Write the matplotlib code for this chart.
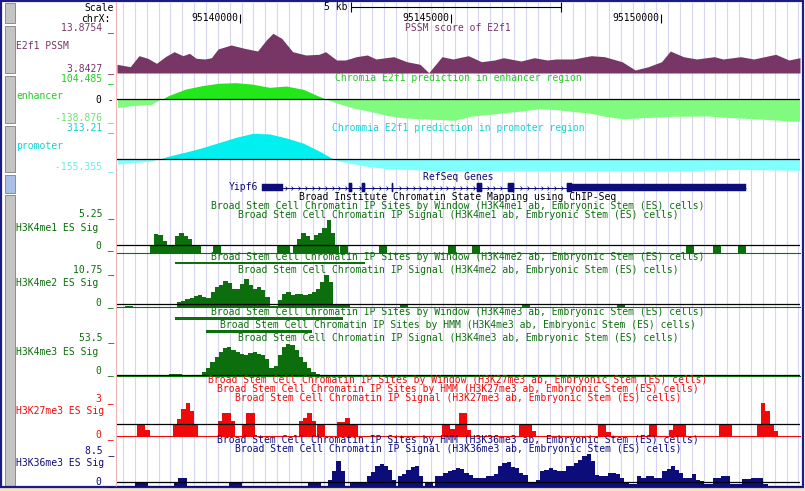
import numpy as np
import matplotlib
matplotlib.use("Agg")
import matplotlib.pyplot as plt
from matplotlib.patches import Rectangle
from matplotlib.path import Path

# ---------------- data ----------------
VIEW_START, VIEW_END = 95137078, 95153300
CHROM = "chrX"
RULER_TICKS = [95140000, 95145000, 95150000]
SCALE_BAR_START, SCALE_BAR_LEN = 95142635, 5000

PSSM_RANGE = (3.8427, 13.8754)
PSSM_POS = [95137078, 95137391, 95137600, 95137808, 95138017, 95138225, 95138434, 95138643,
            95138799, 95138955, 95139164, 95139320, 95139477, 95139790, 95140103, 95140416,
            95140624, 95140781, 95140989, 95141250, 95141563, 95141876, 95142032, 95142293,
            95142502, 95142762, 95143023, 95143232, 95143649, 95143962, 95144275, 95144483,
            95144796, 95145057, 95145422, 95145735, 95146048, 95146256, 95146674, 95146987,
            95147299, 95147508, 95147925, 95148342, 95148655, 95149073, 95149385, 95149698,
            95150011, 95150220, 95150533, 95150846, 95151263, 95151471, 95151889, 95152202,
            95152723, 95153036, 95153300]
PSSM_VAL = [5.74, 5.22, 7.62, 7.05, 5.96, 7.40, 8.49, 7.62, 8.14, 7.05, 6.90, 7.18, 9.08, 9.95,
            9.23, 8.64, 11.04, 12.50, 11.41, 8.49, 7.77, 7.92, 8.49, 6.68, 6.68, 7.40, 7.77, 6.90,
            7.40, 6.31, 5.74, 3.91, 7.40, 6.90, 7.62, 6.31, 6.68, 7.18, 6.46, 7.18, 6.68, 6.90,
            6.90, 7.62, 7.40, 6.31, 4.50, 5.22, 6.31, 8.64, 7.40, 6.90, 7.40, 6.90, 7.40, 6.90,
            7.92, 6.68, 7.18]

ENH_RANGE = (-138.876, 104.485)
PROM_RANGE = (-155.355, 313.21)
PRED_POS = list(range(95137100, 95153200, 400)) + [95153300]
ENH_VAL = [-47, -36, -31, 20, 55, 74, 87, 90, 82, 65, 72, 54, 14, -22, -50, -68, -90, -103,
           -108, -112, -116, -94, -85, -75, -66, -54, -58, -68, -77, -95, -108, -103, -99, -94,
           -94, -92, -100, -104, -109, -114, -121, -121]
PROM_VAL = [-59, -40, -27, 30, 72, 118, 172, 226, 268, 262, 220, 166, 79, -20, -55, -85, -105,
            -112, -118, -125, -128, -130, -128, -125, -122, -125, -128, -130, -128, -125, -125,
            -127, -130, -128, -125, -120, -115, -112, -115, -118, -120, -122]

GENE_NAME = "Yipf6"
GENE_SPAN = (95140522, 95152017)
GENE_CDS = (95142588, 95147884)
GENE_EXONS = [(95140522, 95141020), (95142588, 95142659), (95142897, 95142968),
              (95143609, 95143633), (95145628, 95145747), (95146364, 95146507),
              (95147766, 95152017)]

H3K4ME2_WINDOW = [(95138455, 95142968)]
H3K4ME3_WINDOW = [(95138455, 95142446)]
H3K4ME3_HMM = [(95139192, 95141709)]

SIG_BIN = 100  # bp per signal bin
H3K4ME1_MAX = 5.25
H3K4ME1 = [
    (95137862, [1, 2.5, 2.4, 1.6, 1, 1, 2.3, 2.7, 2.3, 1.9, 1, 1]),
    (95139358, [1, 1]),
    (95140878, [1, 1, 1]),
    (95141258, [1, 1.9, 2.6, 2.2, 1.7, 2.4, 2.6, 3.4, 4.4, 2.7, 1]),
    (95142374, [1, 1]),
    (95143300, [1, 1]),
    (95144939, [1, 1]),
    (95145509, [1, 1]),
    (95150592, [1, 1]),
    (95151233, [1, 1]),
    (95151827, [1, 1]),
]
H3K4ME2_MAX = 10.75
H3K4ME2 = [
    (95137268, [0.3, 0.3]),
    (95138503, [1.6, 1.8, 2.4, 2.8, 3.2, 3.5, 3.0, 2.7, 4.5, 6.0, 6.6, 8.0, 7.2, 5.5, 5.5, 7.0,
                8.4, 6.6, 5.6, 6.0, 5.0, 3.0, 0.3, 0.3, 2.0, 3.8, 4.5, 3.5, 3.8, 4.0, 3.6, 3.8,
                4.5, 5.6, 7.5, 9.8, 7.5, 1.0, 1.0, 1.0, 1.0]),
    (95143799, [0.5, 0.5]),
    (95146697, [0.6, 0.6]),
    (95148953, [0.6, 0.6]),
]
H3K4ME3_MAX = 53.5
H3K4ME3 = [
    (95137102, [1.5, 1.5]),
    (95138028, [1.5, 1.5]),
    (95138313, [2.5, 2.5, 2.5]),
    (95138669, [2, 2]),
    (95139097, [6, 12, 20, 28, 34, 40, 42, 38, 34, 32, 31, 33, 34, 32, 31, 24, 12, 14, 30, 42,
                46, 45, 38, 28, 20, 12, 6, 3, 2, 2]),
    (95142303, [1.5, 1.5, 1.5]),
    (95145271, [1.5, 1.5, 1.5]),
    (95146697, [1.5, 1.5]),
    (95148953, [1.5, 1.5, 1.5]),
    (95151566, [1.5, 1.5, 1.5, 1.5, 1.5, 1.5, 1.5, 1.5, 1.5, 1.5, 1.5, 1.5, 1.5, 1.5, 1.5]),
]
H3K27ME3_MAX = 3
H3K27ME3 = [
    (95137553, [1, 1, 0.5]),
    (95138408, [1, 1.5, 2.4, 2.9, 2.2, 1]),
    (95139477, [1.3, 2.0, 2.0, 1.3]),
    (95140047, [1, 2.0, 2.0]),
    (95141401, [1.3, 1.6, 2.0, 1.3]),
    (95141828, [1, 1]),
    (95142303, [1.2, 1.2, 1.6, 1, 1]),
    (95144797, [1, 1, 0.6, 1, 2.0, 2.0, 0.5]),
    (95146626, [1, 1, 1, 0.4]),
    (95148502, [1, 1, 0.3]),
    (95149713, [1, 1]),
    (95150188, [0.5, 1, 1, 1]),
    (95151376, [1, 1, 1]),
    (95152278, [1, 2.9, 2.2, 1, 0.4]),
]
H3K36ME3_MAX = 8.5
H3K36ME3 = [
    (95137506, [0.8, 0.8, 0.8]),
    (95138432, [0.8, 1.9, 1.9]),
    (95139738, [0.8, 0.8, 0.8]),
    (95141614, [0.8, 0.8, 0.8]),
    (95142089, [1.5, 3.6, 6.1, 3.6]),
    (95142612, [0.8, 0.8, 0.8, 0.8]),
    (95143016, [2.3, 3.5, 4.8, 5.4, 4.8, 4.0, 1.5]),
    (95143752, [2.3, 2.8, 4.0, 4.6, 4.8, 2.5]),
    (95144393, [0.8, 0.8]),
    (95144631, [2.3, 2.3, 3.2, 3.6, 4.0, 4.4, 4.2, 3.2, 2.6, 1.9,
                1.9, 2.0, 2.3, 2.3, 3.0, 4.8, 5.6, 5.9, 4.6, 4.4,
                3.2, 2.75, 1.0, 0.8, 1.5, 3.6, 4.0, 4.4, 4.0, 3.6,
                3.6, 4.8, 4.8, 5.6, 6.5, 7.3, 7.9, 6.1, 2.75, 2.3,
                2.3, 3.2, 3.2, 2.8, 1.9, 1.0, 0.4, 0.4, 2.3, 2.0,
                2.3, 2.3, 1.9, 1.9, 3.6, 4.2, 4.8, 4.0, 3.2, 1.9,
                1.9, 2.9, 1.5, 1.2, 0.3, 0.3, 1.9, 1.9, 2.3, 2.3,
                0.4, 0.4, 0.4, 1.7, 1.7, 1.9, 1.9, 1.9, 0.3]),
]

# ---------------- styling ----------------
W, H = 805, 491
PURPLE = '#783667'
GREEN_B, GREEN_L = '#22e81a', '#80fb80'
CYAN_B, CYAN_L = '#00efef', '#80ffff'
NAVY = '#0c0c7a'
DKGREEN = '#0c6e0c'
RED = '#ee0a0a'
GRID = '#d6d6ef'
FONT = dict(family='DejaVu Sans Mono', size=7)

fig = plt.figure(figsize=(W / 100, H / 100), dpi=100)
fig.patch.set_facecolor('white')


def px_axes(left, top, right, bottom, z):
    ax = fig.add_axes([left / W, 1 - bottom / H, (right - left) / W, (bottom - top) / H], zorder=z)
    ax.set_axis_off()
    return ax


# background: frame, buttons, gridlines
bg = px_axes(0, 0, W, H, 0)
bg.set_xlim(0, W)
bg.set_ylim(H, 0)
bg.add_patch(Rectangle((0, 488), W, 3, facecolor='#f3e4c4', edgecolor='none'))
bg.vlines(np.arange(123, 800, 11.85), 2, 486, color=GRID, lw=0.8)
bg.vlines(116, 2, 486, color='#f2b4b4', lw=0.8)
for (y0, y1, c) in [(3, 23, '#c4c4c4'), (26, 73, '#c4c4c4'), (76, 123, '#c4c4c4'),
                    (126, 172, '#c4c4c4'), (175, 193, '#a9bfe6'), (195, 486, '#c4c4c4')]:
    bg.add_patch(Rectangle((4.5, y0), 10.5, y1 - y0, facecolor=c, edgecolor='#8c8c8c', lw=0.7))
bg.add_patch(Rectangle((1, 1), W - 3, 486, facecolor='none', edgecolor='#1c1c86', lw=1.6))


def track(top, bottom, lo, hi):
    ax = px_axes(117, top, 800, bottom, 2)
    ax.set_xlim(VIEW_START, VIEW_END)
    ax.set_ylim(lo, hi)
    return ax


# PSSM
ax = track(27, 73, *PSSM_RANGE)
ax.fill_between(PSSM_POS, PSSM_VAL, PSSM_RANGE[0], color=PURPLE, lw=0)

# Chromia predictions
for (top, bottom, rng, vals, cb, cl) in [(80, 125, ENH_RANGE, ENH_VAL, GREEN_B, GREEN_L),
                                         (129, 174, PROM_RANGE, PROM_VAL, CYAN_B, CYAN_L)]:
    ax = track(top, bottom, *rng)
    p, v = np.array(PRED_POS), np.array(vals, float)
    ax.fill_between(p, v, 0, where=v >= 0, interpolate=True, color=cb, lw=0)
    ax.fill_between(p, v, 0, where=v <= 0, interpolate=True, color=cl, lw=0)
    ax.axhline(0, color='black', lw=0.9)

# Broad signal tracks
for (top, bottom, vmax, blocks, col) in [(214, 252.5, H3K4ME1_MAX, H3K4ME1, DKGREEN),
                                         (271.5, 307, H3K4ME2_MAX, H3K4ME2, DKGREEN),
                                         (339, 376, H3K4ME3_MAX, H3K4ME3, DKGREEN),
                                         (402, 435.5, H3K27ME3_MAX, H3K27ME3, RED),
                                         (451.5, 485.5, H3K36ME3_MAX, H3K36ME3, NAVY)]:
    ax = track(top, bottom, 0, vmax)
    for start, vals in blocks:
        edges = start + SIG_BIN * np.arange(len(vals) + 1)
        ax.stairs(vals, edges, baseline=0, fill=True, color=col, lw=0)
    ax.axhline(0, color=col, lw=0.8, clip_on=False)
    ax.axhline(1, color='black', lw=0.9)

# features: ruler, gene, site bars (x in bp, y in pixel rows)
ft = px_axes(117, 0, 800, H, 3)
ft.set_xlim(VIEW_START, VIEW_END)
ft.set_ylim(H, 0)
ft.hlines(6.5, SCALE_BAR_START, SCALE_BAR_START + SCALE_BAR_LEN, color='black', lw=0.8)
ft.vlines([SCALE_BAR_START, SCALE_BAR_START + SCALE_BAR_LEN], 2, 11.5, color='black', lw=0.8)
ft.vlines(RULER_TICKS, 13.5, 22.5, color='black', lw=0.8)
for t in RULER_TICKS:
    ft.annotate(str(t), (t, 18.3), xytext=(-1.2, 0), textcoords='offset points',
                ha='right', va='center', color='black', **FONT)

gy = 187.5
ft.hlines(gy, *GENE_SPAN, color=NAVY, lw=0.7)
chev = Path([(-0.5, 1), (0.5, 0), (-0.5, -1)], [Path.MOVETO, Path.LINETO, Path.LINETO])
cx = np.arange(GENE_SPAN[0] + 80, GENE_SPAN[1], 160)
inside = np.zeros(len(cx), bool)
for s, e in GENE_EXONS:
    inside |= (cx > s - 50) & (cx < e + 50)
ft.plot(cx[~inside], np.full((~inside).sum(), gy), ls='none', marker=chev, ms=2.8,
        mec=NAVY, mfc='none', mew=0.55)
for s, e in GENE_EXONS:
    cs, ce = max(s, GENE_CDS[0]), min(e, GENE_CDS[1])
    ft.broken_barh([(s, e - s)], (gy - 3.2, 6.4), facecolor=NAVY, edgecolor=NAVY, lw=0.3)
    if ce > cs:
        ft.broken_barh([(cs, ce - cs)], (gy - 4.3, 8.6), facecolor=NAVY, edgecolor=NAVY, lw=0.3)
ft.annotate(GENE_NAME, (GENE_SPAN[0], gy), xytext=(-3, 0), textcoords='offset points',
            ha='right', va='center', color=NAVY, **FONT)

for spans, y in [(H3K4ME2_WINDOW, 261.8), (H3K4ME3_WINDOW, 317.3), (H3K4ME3_HMM, 330.1)]:
    ft.broken_barh([(s, e - s) for s, e in spans], (y, 2.6), facecolor=DKGREEN, lw=0)

# text overlay
tx = px_axes(0, 0, W, H, 4)
tx.set_xlim(0, W)
tx.set_ylim(H, 0)

LEFT_LABELS = [
    ("Scale", 114, 7.5, 'black', 'right'), (CHROM + ":", 110, 18.5, 'black', 'right'),
    ("13.8754 _", 114, 27.5, PURPLE, 'right'), ("E2f1 PSSM", 16, 46, PURPLE, 'left'),
    ("3.8427 _", 114, 69, PURPLE, 'right'),
    ("104.485 _", 114, 79, '#22cc22', 'right'), ("enhancer", 16, 96, '#22cc22', 'left'),
    ("0 -", 114, 99.5, 'black', 'right'), ("-138.876 _", 114, 118, '#70e070', 'right'),
    ("313.21 _", 114, 128, '#11d4d4', 'right'), ("promoter", 16, 146, '#11d4d4', 'left'),
    ("-155.355 _", 114, 166.5, '#70e8e8', 'right'),
    ("5.25 _", 114, 214, DKGREEN, 'right'), ("H3K4me1 ES Sig", 16, 228, DKGREEN, 'left'),
    ("0 _", 114, 246, DKGREEN, 'right'),
    ("10.75 _", 114, 270, DKGREEN, 'right'), ("H3K4me2 ES Sig", 16, 283, DKGREEN, 'left'),
    ("0 _", 114, 303, DKGREEN, 'right'),
    ("53.5 _", 114, 338, DKGREEN, 'right'), ("H3K4me3 ES Sig", 16, 352, DKGREEN, 'left'),
    ("0 _", 114, 371, DKGREEN, 'right'),
    ("3 _", 114, 399, RED, 'right'), ("H3K27me3 ES Sig", 16, 411, RED, 'left'),
    ("0 _", 114, 435, RED, 'right'),
    ("8.5 _", 114, 451, NAVY, 'right'), ("H3K36me3 ES Sig", 16, 463, NAVY, 'left'),
    ("0 _", 114, 482, NAVY, 'right'),
]
for s, x, y, c, ha in LEFT_LABELS:
    tx.text(x, y, s, ha=ha, va='center', color=c, **FONT)


def broad(kind, mark):
    return f"Broad Stem Cell Chromatin IP {kind} ({mark} ab, Embryonic Stem (ES) cells)"


TITLES = [
    ("PSSM score of E2f1", 28, PURPLE),
    ("Chromia E2f1 prediction in enhancer region", 78, '#22cc22'),
    ("Chrommia E2f1 prediction in promoter region", 128, '#11d4d4'),
    ("RefSeq Genes", 177, NAVY),
    ("Broad Institute Chromatin State Mapping using ChIP-Seq", 197, 'black'),
    (broad("Sites by Window", "H3K4me1"), 206, DKGREEN),
    (broad("Signal", "H3K4me1"), 215, DKGREEN),
    (broad("Sites by Window", "H3K4me2"), 257, DKGREEN),
    (broad("Signal", "H3K4me2"), 270, DKGREEN),
    (broad("Sites by Window", "H3K4me3"), 312, DKGREEN),
    (broad("Sites by HMM", "H3K4me3"), 325, DKGREEN),
    (broad("Signal", "H3K4me3"), 338, DKGREEN),
    (broad("Sites by Window", "H3K27me3"), 380, RED),
    (broad("Sites by HMM", "H3K27me3"), 389, RED),
    (broad("Signal", "H3K27me3"), 398, RED),
    (broad("Sites by HMM", "H3K36me3"), 440, NAVY),
    (broad("Signal", "H3K36me3"), 449, NAVY),
]
for s, y, c in TITLES:
    tx.text(458, y, s, ha='center', va='center', color=c, **FONT)
tx.text(347, 7, "5 kb", ha='right', va='center', color='black', **FONT)

fig.savefig("out.png", dpi=100, facecolor='white')
